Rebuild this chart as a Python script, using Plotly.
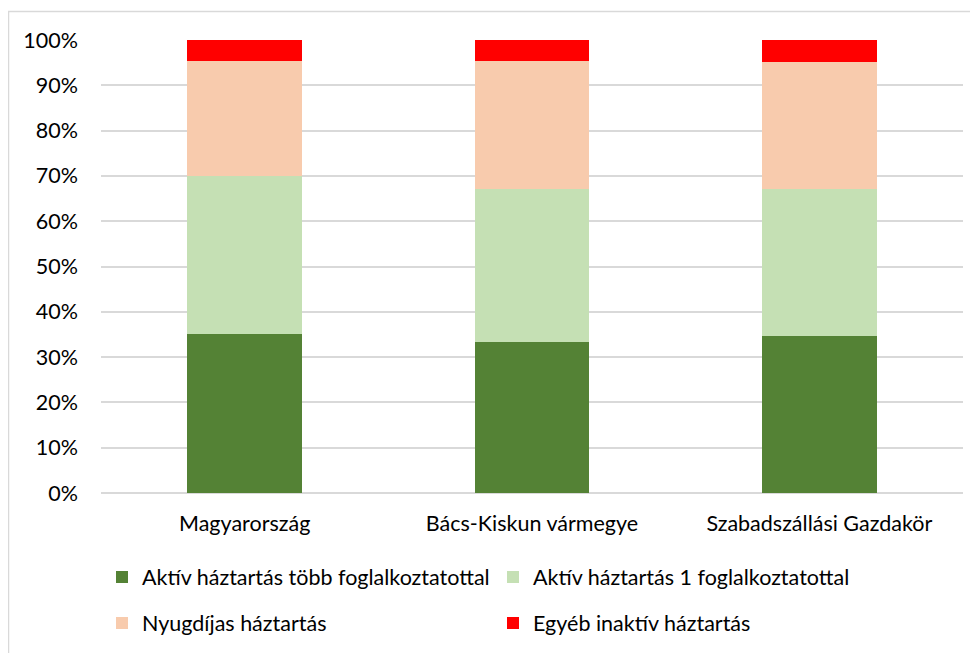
import plotly.graph_objects as go

categories = ["Magyarország", "Bács-Kiskun vármegye", "Szabadszállási Gazdakör"]
series_names = [
    "Aktív háztartás több foglalkoztatottal",
    "Aktív háztartás 1 foglalkoztatottal",
    "Nyugdíjas háztartás",
    "Egyéb inaktív háztartás",
]
aktiv_tobb = [35.1, 33.3, 34.7]
aktiv_egy = [34.8, 33.9, 32.4]
nyugdijas = [25.5, 28.2, 28.1]
egyeb = [4.6, 4.6, 4.8]
tick_vals = [0, 10, 20, 30, 40, 50, 60, 70, 80, 90, 100]
tick_text = ["0%", "10%", "20%", "30%", "40%", "50%", "60%", "70%", "80%", "90%", "100%"]

colors = ["#548235", "#C5E0B4", "#F8CBAD", "#FF0000"]
values = [aktiv_tobb, aktiv_egy, nyugdijas, egyeb]
legends = ["legend", "legend", "legend2", "legend2"]

FONT = "Lato, 'Open Sans', sans-serif"
FS = 21.5
W, H = 978, 653
OFF = 8  # page body margin
# target plot area in page pixels
PL, PR, PT, PB = 101, 963, 40, 493
ml = PL - OFF
mt = PT - OFF
mr = W - (PR - OFF)
mb = H - (PB - OFF)

fig = go.Figure()
for name, vals, col, lg in zip(series_names, values, colors, legends):
    fig.add_trace(go.Bar(
        x=categories, y=vals, name=name,
        marker=dict(color=col, line=dict(width=0)),
        legend=lg,
    ))

pw = PR - PL
ph = PB - PT

def px_x(p):
    return (p - PL) / pw

def px_y(p):
    return 1 - (p - PT) / ph

fig.update_layout(
    width=W, height=H,
    margin=dict(l=ml, r=mr, t=mt, b=mb, autoexpand=False),
    barmode="stack",
    bargap=0.6,
    plot_bgcolor="white",
    paper_bgcolor="white",
    font=dict(family=FONT, size=FS, color="#000000"),
    xaxis=dict(showgrid=False, showline=False, ticks="", tickfont=dict(size=FS),
               ticklabelstandoff=15),
    yaxis=dict(range=[0, 100], tickvals=tick_vals, ticktext=tick_text,
               showgrid=True, gridcolor="#d9d9d9", gridwidth=1.5,
               zeroline=True, zerolinecolor="#d9d9d9", zerolinewidth=1.5,
               showline=False, ticks="", ticklabelstandoff=22,
               tickfont=dict(size=FS)),
    legend=dict(orientation="h", x=px_x(102), xanchor="left",
                y=px_y(577), yanchor="middle", entrywidth=346, entrywidthmode="pixels",
                font=dict(size=FS), traceorder="normal", bgcolor="rgba(0,0,0,0)"),
    legend2=dict(orientation="h", x=px_x(102), xanchor="left",
                 y=px_y(623), yanchor="middle", entrywidth=346, entrywidthmode="pixels",
                 font=dict(size=FS), traceorder="normal", bgcolor="rgba(0,0,0,0)"),
    shapes=[dict(type="rect", xref="paper", yref="paper",
                 x0=px_x(8.5), x1=px_x(W + 30), y0=px_y(H + 30), y1=px_y(11.5),
                 line=dict(color="#d9d9d9", width=1.5), fillcolor="rgba(0,0,0,0)",
                 layer="below")],
)

fig.write_html("out.html")
